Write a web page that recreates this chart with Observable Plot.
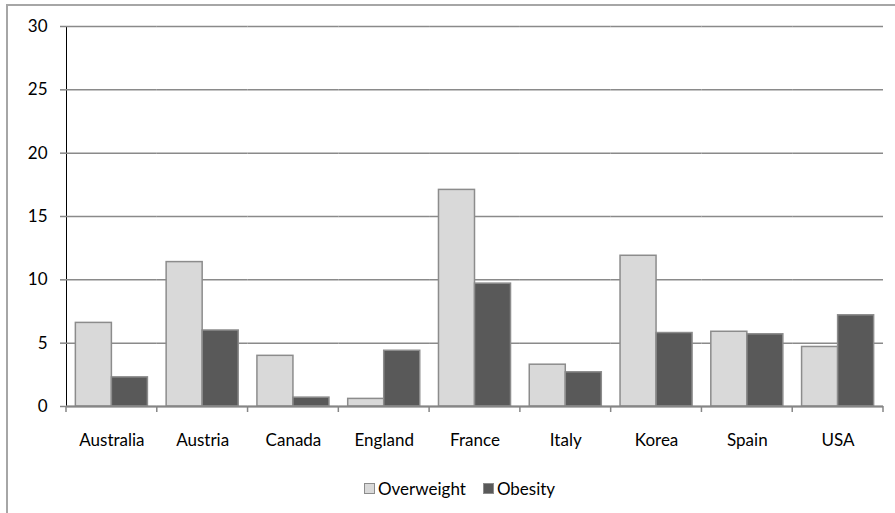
<!DOCTYPE html>
<html>
<head>
<meta charset="utf-8">
<script src="https://cdn.jsdelivr.net/npm/d3@7"></script>
<script src="https://cdn.jsdelivr.net/npm/@observablehq/plot@0.6"></script>
<style>
  html, body { margin: 0; padding: 0; background: #fff; overflow: hidden; }
  body { width: 895px; height: 513px; position: relative; font-family: Lato, "Open Sans", sans-serif; }
  #frame {
    position: absolute; left: 6px; top: 4px; width: 1000px; height: 600px;
    border-left: 2px solid #a6a6a6; border-top: 2px solid #a6a6a6;
  }
  #chart { position: absolute; left: 0; top: 0; }
  #chart svg [aria-label^="y-axis"] line,
  #chart svg [aria-label^="y-axis"] path { stroke: #868686; stroke-width: 1.5; }
  #legend {
    position: absolute; left: 364px; top: 478px;
    display: flex; align-items: center; font-size: 17px; color: #000;
  }
  #legend .item { display: flex; align-items: center; margin-right: 17px; }
  #legend .sw { width: 9px; height: 9px; border: 1px solid #8c8c8c; margin-right: 3px; }
</style>
</head>
<body>
<div id="frame"></div>
<div id="chart"></div>
<div id="legend"></div>
<script>
// Countries and the two measured series
const countries = ["Australia", "Austria", "Canada", "England", "France", "Italy", "Korea", "Spain", "USA"];
const overweight = [6.6, 11.4, 4.0, 0.6, 17.1, 3.3, 11.9, 5.9, 4.7];
const obesity = [2.3, 6.0, 0.7, 4.4, 9.7, 2.7, 5.8, 5.7, 7.2];
const seriesNames = ["Overweight", "Obesity"];
const seriesColors = ["#d9d9d9", "#595959"];
const yTicks = [0, 5, 10, 15, 20, 25, 30];

// Long-format table: one row per country and series
const rows = countries.flatMap((c, i) => [
  {country: c, series: seriesNames[0], value: overweight[i]},
  {country: c, series: seriesNames[1], value: obesity[i]}
]);

const chart = Plot.plot({
  width: 895,
  height: 470,
  marginLeft: 66,
  marginRight: 12,
  marginTop: 26,
  marginBottom: 64,
  style: {fontFamily: "Lato, 'Open Sans', sans-serif", fontSize: "17px", color: "#000", background: "transparent", overflow: "visible"},
  facet: {data: rows, x: "country"},
  fx: {domain: countries, padding: 0, round: false, label: null, axis: "bottom", tickSize: 0, tickPadding: 27},
  x: {domain: seriesNames, paddingInner: 0, paddingOuter: 0.26, round: false, axis: null},
  y: {domain: [0, 30], ticks: yTicks, label: null, tickSize: 6, tickPadding: 13, line: true},
  color: {domain: seriesNames, range: seriesColors},
  marks: [
    Plot.ruleY(yTicks, {stroke: "#8a8a8a", strokeWidth: 1.5}),
    Plot.barY(rows, {x: "series", y: "value", fill: "series", stroke: "#8c8c8c", strokeWidth: 1.5}),
    Plot.ruleY([0], {stroke: "#868686", strokeWidth: 2})
  ]
});
document.getElementById("chart").appendChild(chart);

// Category boundary ticks below the baseline, placed with the facet and y scales
(function () {
  const svg = chart.tagName.toLowerCase() === "svg" ? chart : chart.querySelector("svg");
  let fxDesc = null, yDesc = null;
  try { fxDesc = chart.scale("fx"); } catch (e) {}
  try { yDesc = chart.scale("y"); } catch (e) {}
  const band = d3.scaleBand()
    .domain(fxDesc ? fxDesc.domain : countries)
    .range(fxDesc ? fxDesc.range : [66, 883])
    .paddingInner(0).paddingOuter(0);
  const yScale = d3.scaleLinear()
    .domain(yDesc ? yDesc.domain : [0, 30])
    .range(yDesc ? yDesc.range : [406, 26]);
  const y0 = yScale(0);
  const edges = band.domain().map(c => band(c)).concat([band(band.domain().at(-1)) + band.bandwidth()]);
  d3.select(svg).append("g")
    .attr("stroke", "#868686").attr("stroke-width", 1.5)
    .selectAll("line").data(edges).join("line")
    .attr("x1", d => d).attr("x2", d => d)
    .attr("y1", y0).attr("y2", y0 + 6);
})();

// Legend below the plot
const legend = d3.select("#legend");
seriesNames.forEach((name, i) => {
  const item = legend.append("div").attr("class", "item");
  item.append("div").attr("class", "sw").style("background", seriesColors[i]);
  item.append("span").text(name);
});
</script>
</body>
</html>
